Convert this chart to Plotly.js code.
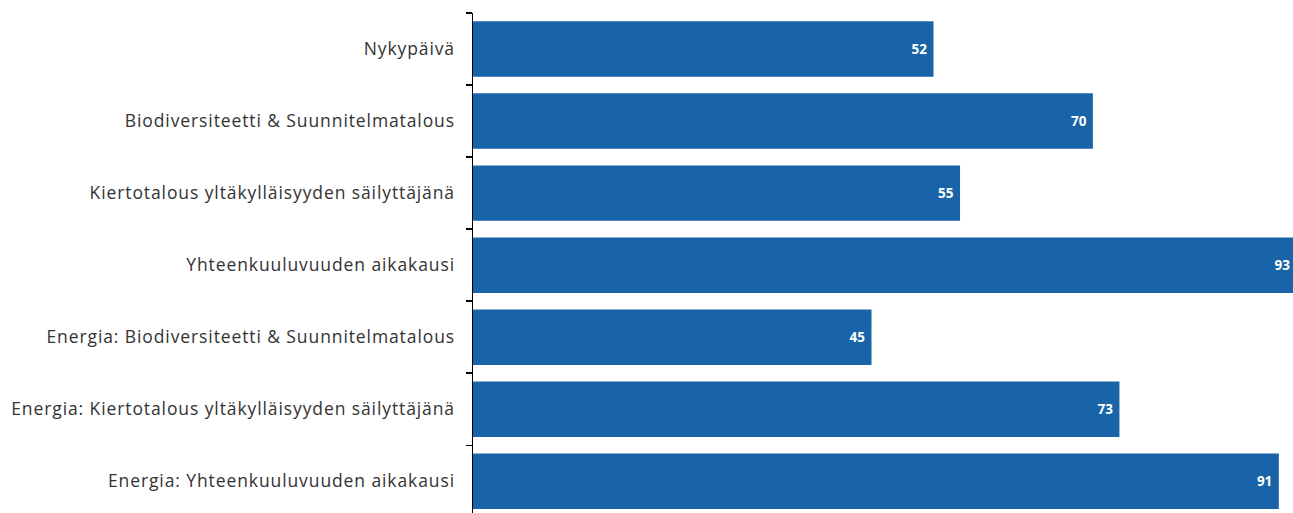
<!DOCTYPE html>
<html>
<head>
<meta charset="utf-8">
<script src="https://cdn.plot.ly/plotly-3.0.1.min.js"></script>
<style>
html,body{margin:0;padding:0;background:#fff;}
#chart{width:1293px;height:513px;}
#chart .ytick text{letter-spacing:0.9px;}
</style>
</head>
<body>
<div id="chart"></div>
<script>
const categories = [
  "Nykypäivä",
  "Biodiversiteetti & Suunnitelmatalous",
  "Kiertotalous yltäkylläisyyden säilyttäjänä",
  "Yhteenkuuluvuuden aikakausi",
  "Energia: Biodiversiteetti & Suunnitelmatalous",
  "Energia: Kiertotalous yltäkylläisyyden säilyttäjänä",
  "Energia: Yhteenkuuluvuuden aikakausi"
];
const values = [52, 70, 55, 93, 45, 73, 91];

const trace = {
  type: 'bar',
  orientation: 'h',
  y: categories,
  x: values,
  marker: {color: '#1964a8'},
  text: values.map(String),
  texttemplate: '%{text}\u00a0',
  textposition: 'inside',
  insidetextanchor: 'end',
  textfont: {family: '"Open Sans", sans-serif', size: 13.5, color: '#ffffff', weight: 'bold'},
  cliponaxis: true,
  width: 0.77,
  hoverinfo: 'none'
};

const layout = {
  width: 1293,
  height: 513,
  margin: {l: 473, r: 0, t: 13, b: 0, pad: 0},
  paper_bgcolor: '#ffffff',
  plot_bgcolor: '#ffffff',
  showlegend: false,
  font: {family: '"Open Sans", sans-serif', color: '#333333'},
  xaxis: {
    range: [0, 92.6],
    visible: false,
    showgrid: false,
    zeroline: false
  },
  yaxis: {
    type: 'category',
    range: [6.44, -0.5],
    showline: true,
    linecolor: '#000000',
    linewidth: 1.5,
    ticks: 'outside',
    tickson: 'boundaries',
    ticklen: 6,
    tickwidth: 1.5,
    tickcolor: '#000000',
    showgrid: false,
    zeroline: false,
    ticklabelstandoff: 13,
    tickfont: {family: '"Open Sans", sans-serif', size: 17.5, color: '#333333'}
  }
};

Plotly.newPlot('chart', [trace], layout, {displayModeBar: false, staticPlot: true});
</script>
</body>
</html>
